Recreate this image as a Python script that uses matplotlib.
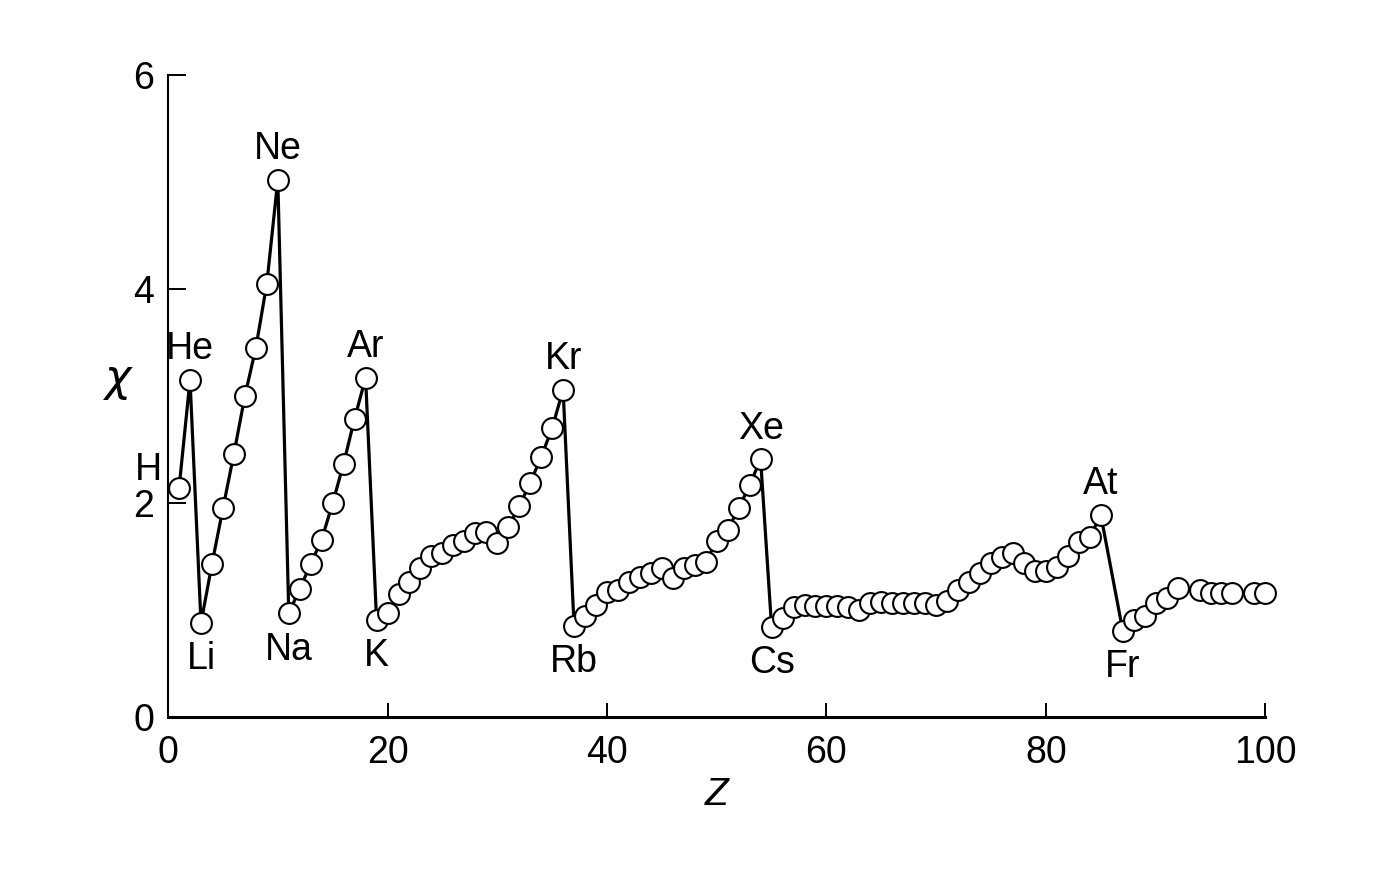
import matplotlib
matplotlib.use("Agg")
import matplotlib.pyplot as plt

plt.rcParams['font.family'] = ['Liberation Sans', 'DejaVu Sans']

# Mulliken electronegativity against atomic number
z_values = list(range(1, 86)) + [87, 88, 89, 90, 91, 92, 94, 95, 96, 97, 99, 100]
chi_values = [
    2.14, 3.15,
    0.88, 1.43, 1.95, 2.46, 3.00, 3.45, 4.05, 5.02,
    0.97, 1.20, 1.43, 1.66, 2.00, 2.37, 2.79, 3.17,
    0.91, 0.97, 1.15, 1.26, 1.39, 1.51, 1.53, 1.61, 1.65, 1.72, 1.73, 1.63,
    1.78, 1.97, 2.19, 2.43, 2.70, 3.06,
    0.85, 0.95, 1.05, 1.17, 1.19, 1.26, 1.31, 1.35, 1.39, 1.30, 1.39, 1.42,
    1.45, 1.65, 1.75, 1.95, 2.17, 2.41,
    0.84, 0.93, 1.03, 1.05, 1.04, 1.04, 1.04, 1.03, 1.00, 1.07, 1.08, 1.07,
    1.07, 1.07, 1.07, 1.05, 1.09, 1.19, 1.26, 1.35, 1.44, 1.50, 1.53, 1.44,
    1.37, 1.37, 1.40, 1.51, 1.64, 1.68, 1.89,
    0.81, 0.91, 0.95, 1.07, 1.11, 1.21, 1.19, 1.16, 1.16, 1.16, 1.16, 1.16,
]

# labelled elements: symbol, Z, above (True) or below (False)
label_names = ["He", "Ne", "Ar", "Kr", "Xe", "At", "Li", "Na", "K", "Rb", "Cs", "Fr"]
label_z = [2, 10, 18, 36, 54, 85, 3, 11, 19, 37, 55, 87]
label_above = [True] * 6 + [False] * 6

x_ticks = [0, 20, 40, 60, 80, 100]
y_ticks = [0, 2, 4, 6]

fig = plt.figure(figsize=(13.89, 8.91), dpi=100)
ax = fig.add_axes([0.121, 0.195, 0.790, 0.721])

ax.plot(z_values, chi_values, color="black", linewidth=2.3,
        marker="o", markersize=15, markerfacecolor="white",
        markeredgecolor="black", markeredgewidth=1.5, clip_on=False)

for name, z, above in zip(label_names, label_z, label_above):
    chi = chi_values[z_values.index(z)]
    dy = 22 if above else -26
    ax.annotate(name, (z, chi), xytext=(0, dy), textcoords="offset points",
                ha="center", va="center", fontsize=27)

# H sits next to the axis
ax.annotate("H", (1, chi_values[0]), xytext=(-22, 13),
            textcoords="offset points", ha="center", va="center",
            fontsize=27, annotation_clip=False)

ax.set_xlim(0, 100)
ax.set_ylim(0, 6)
ax.set_xticks(x_ticks)
ax.set_yticks(y_ticks)

ax.spines["top"].set_visible(False)
ax.spines["right"].set_visible(False)
ax.spines["left"].set_linewidth(1.5)
ax.spines["bottom"].set_linewidth(2.2)

ax.tick_params(axis="x", direction="in", length=10, width=1.4,
               labelsize=27, pad=13)
ax.tick_params(axis="y", direction="in", length=13, width=1.4,
               labelsize=27, pad=10)

ax.set_xlabel("Z", fontsize=28, style="italic", labelpad=4)
ax.set_ylabel(r"$\chi$", fontsize=32, rotation=0, labelpad=18)
ax.yaxis.set_label_coords(-0.045, 0.49)

fig.savefig("out.png", dpi=100, facecolor="white")
